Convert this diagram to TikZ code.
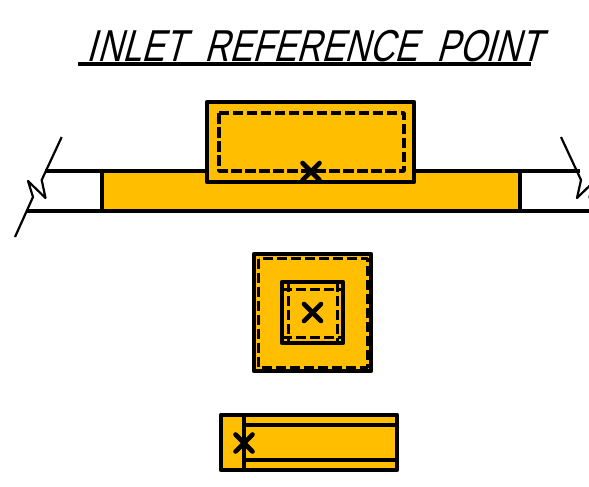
\documentclass[tikz,border=0pt]{standalone}
\usepackage{fontspec}
\setmainfont[FakeSlant=0.36]{Liberation Sans}
\definecolor{inletfill}{HTML}{FFBF00}

\begin{document}
\begin{tikzpicture}[x=1pt, y=-1pt, line join=round,
    heavy/.style={line width=4.6pt},
    medium/.style={line width=3.6pt},
    thin break/.style={line width=2.2pt},
    hidden/.style={line width=3.4pt, dash pattern=on 10.5pt off 3.5pt},
    fine hidden/.style={line width=3pt, dash pattern=on 10pt off 4pt},
    cross/.style={line width=4.6pt, line cap=round}]
    \useasboundingbox (0,0) rectangle (589,487);

    % Title
    \node[inner sep=0pt, xscale=0.77] (title) at (314,46) {\fontsize{44.7}{46}\selectfont I\kern2pt NLET\ \ REFERENCE\ \ POINT};
    \draw[line width=3.8pt] (78,64) -- (531,64);

    % Side view: slab
    \fill[inletfill] (102,171) rectangle (520,211);
    \draw[medium] (45,171) -- (580,171);
    \draw[heavy] (27,211) -- (589,211);
    \draw[medium] (102,171) -- (102,211);
    \draw[medium] (520,171) -- (520,211);

    % Break lines
    \draw[thin break] (61.7,137) -- (41.7,180) -- (45.5,198) -- (28,181) -- (33,197) -- (15,237);
    \draw[thin break] (561,137) -- (581,180) -- (577,198) -- (594.5,181) -- (589.5,197) -- (607,237);

    % Side view: inlet box
    \draw[heavy, fill=inletfill] (207,102) rectangle (414,182);
    \draw[hidden] (219,113) rectangle (404,171);
    \draw[cross] (302.5,163) -- (319.5,180);
    \draw[cross] (302.5,180) -- (319.5,163);

    % Plan view
    \draw[heavy, fill=inletfill] (254,254) rectangle (371,371);
    \draw[fine hidden] (258.5,258.5) rectangle (367,367);
    \draw[heavy] (282,282) rectangle (343,343);
    \draw[fine hidden] (282,289) -- (343,289);
    \draw[fine hidden] (282,337) -- (343,337);
    \draw[fine hidden] (288,282) -- (288,343);
    \draw[fine hidden] (337.5,282) -- (337.5,343);
    \draw[cross] (304,304) -- (321,321);
    \draw[cross] (304,321) -- (321,304);

    % End view
    \draw[heavy, fill=inletfill] (221,415) rectangle (397,470);
    \draw[heavy] (244,415) -- (244,470);
    \draw[heavy] (244,425) -- (397,425);
    \draw[heavy] (244,460) -- (397,460);
    \draw[cross] (235.5,434.5) -- (252.5,451.5);
    \draw[cross] (235.5,451.5) -- (252.5,434.5);
\end{tikzpicture}
\end{document}
